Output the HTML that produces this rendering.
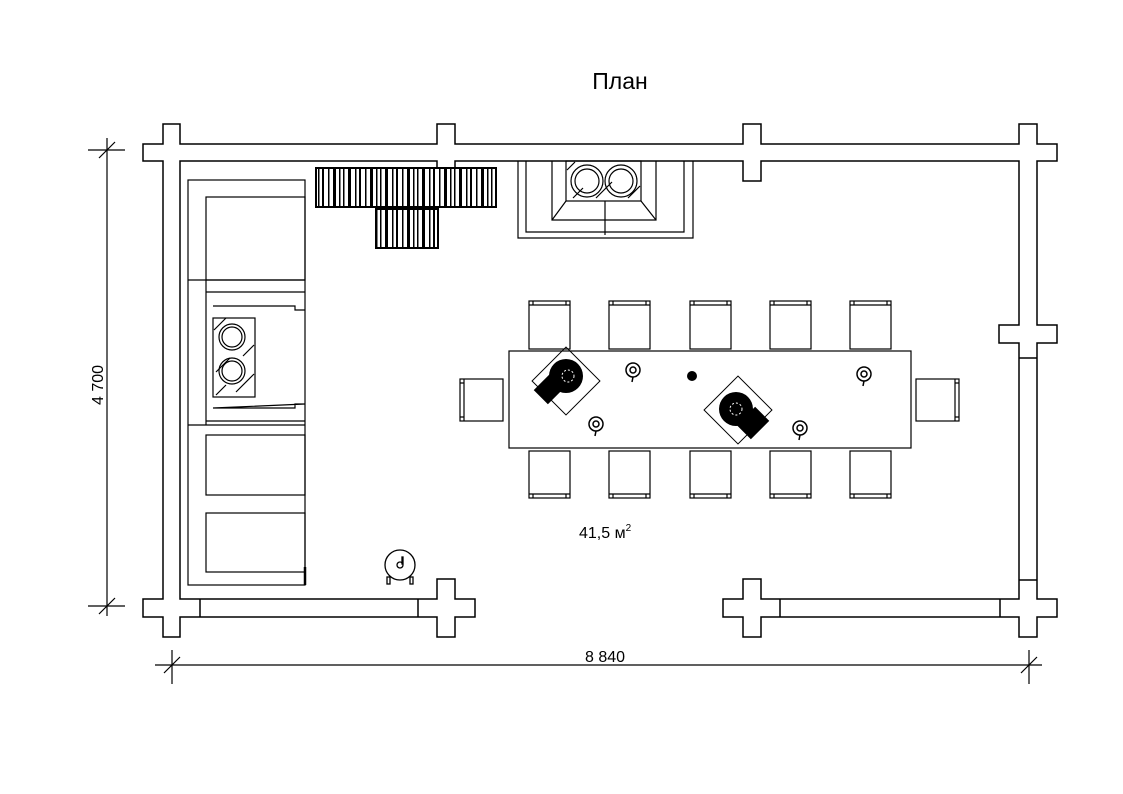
<!DOCTYPE html>
<html><head><meta charset="utf-8"><style>
html,body{margin:0;padding:0;background:#fff}
svg{display:block}
text{font-family:"Liberation Sans",sans-serif;fill:#000}
</style></head><body>
<svg width="1123" height="794" viewBox="0 0 1123 794" xmlns="http://www.w3.org/2000/svg">
<g fill="none" stroke="#000" stroke-width="1.5">
<path d="M143 144 H163 V124 H180 V144 H437 V124 H455 V144 H743 V124 H761 V144 H1019 V124 H1037 V144 H1057 V161 H1037 V325 H1057 V343 H1037 V599 H1057 V617 H1037 V637 H1019 V617 H761 V637 H743 V617 H723 V599 H743 V579 H761 V599 H1019 V343 H999 V325 H1019 V161 H761 V181 H743 V161 H455 V181 H437 V161 H180 V599 H437 V579 H455 V599 H475 V617 H455 V637 H437 V617 H180 V637 H163 V617 H143 V599 H163 V161 H143 Z"/>
<line x1="200" y1="599" x2="200" y2="617"/>
<line x1="418" y1="599" x2="418" y2="617"/>
<line x1="780" y1="599" x2="780" y2="617"/>
<line x1="1000" y1="599" x2="1000" y2="617"/>
<line x1="1019" y1="358" x2="1037" y2="358"/>
<line x1="1019" y1="580" x2="1037" y2="580"/>
</g>
<g fill="none" stroke="#000" stroke-width="1.2">
<line x1="107" y1="138" x2="107" y2="616"/>
<line x1="88" y1="150" x2="125" y2="150"/>
<line x1="88" y1="606" x2="125" y2="606"/>
<line x1="99" y1="158" x2="115" y2="142"/>
<line x1="99" y1="614" x2="115" y2="598"/>
<line x1="155" y1="665" x2="1042" y2="665"/>
<line x1="172" y1="650" x2="172" y2="684"/>
<line x1="1029" y1="650" x2="1029" y2="684"/>
<line x1="164" y1="673" x2="180" y2="657"/>
<line x1="1021" y1="673" x2="1037" y2="657"/>
</g>
<text x="620" y="89" font-size="23" text-anchor="middle">План</text>
<text x="605" y="662" font-size="16" text-anchor="middle">8 840</text>
<text transform="translate(103,385) rotate(-90)" font-size="16" text-anchor="middle">4 700</text>
<text x="579" y="538" font-size="16">41,5 м<tspan font-size="10" dy="-7">2</tspan></text>

<g fill="none" stroke="#000" stroke-width="1.2">
<rect x="188" y="180" width="117" height="405"/>
<rect x="206" y="197" width="99" height="83"/>
<line x1="188" y1="280" x2="305" y2="280"/>
<line x1="188" y1="425" x2="305" y2="425"/>
<line x1="206" y1="280" x2="206" y2="425"/>
<line x1="206" y1="292" x2="305" y2="292"/>
<line x1="206" y1="421" x2="305" y2="421"/>
<path d="M213 306 H295 V310 H305 M305 404 H295 V408 H213 Z"/>
<rect x="213" y="318" width="42" height="79"/>
<circle cx="232" cy="337" r="13"/><circle cx="232" cy="337" r="10"/>
<circle cx="232" cy="371" r="13"/><circle cx="232" cy="371" r="10"/>
<path d="M214 330 L226 318 M236 392 L254 374 M216 372 L230 358 M243 356 L254 345 M216 395 L226 385"/>
<rect x="206" y="435" width="99" height="60"/>
<rect x="206" y="513" width="99" height="59"/>
<line x1="305" y1="567" x2="305" y2="585" stroke-width="2.5"/>
</g>

<g fill="none" stroke="#000" stroke-width="1.2">
<path d="M518 161 V238 H693 V161"/>
<path d="M526 161 V232 H684 V161"/>
<path d="M552 161 V220 H656 V161"/>
<rect x="566" y="161" width="75" height="40"/>
<line x1="566" y1="201" x2="552" y2="220"/><line x1="641" y1="201" x2="656" y2="220"/>
<circle cx="587" cy="181" r="16"/><circle cx="587" cy="181" r="12"/>
<circle cx="621" cy="181" r="16"/><circle cx="621" cy="181" r="12"/>
<line x1="605" y1="201" x2="605" y2="235"/>
<path d="M573 198 L583 188 M596 198 L612 182 M628 198 L640 186 M567 170 L575 162"/>
</g>

<defs>
<pattern id="st" width="37" height="10" patternUnits="userSpaceOnUse">
<rect width="37" height="10" fill="#fff"/>
<rect x="0" width="3" height="10" fill="#000"/><rect x="6" width="1.5" height="10" fill="#000"/>
<rect x="10" width="1.5" height="10" fill="#000"/><rect x="15" width="3" height="10" fill="#000"/>
<rect x="22" width="1.5" height="10" fill="#000"/><rect x="26" width="2" height="10" fill="#000"/>
<rect x="32" width="1.5" height="10" fill="#000"/>
</pattern>
</defs>
<g stroke="#000" stroke-width="2">
<rect x="316" y="168" width="180" height="39" fill="url(#st)"/>
<rect x="376" y="209" width="62" height="39" fill="url(#st)"/>
</g>

<g fill="#fff" stroke="#000" stroke-width="1.2">
<rect x="509" y="351" width="402" height="97"/>
<g id="ct">
<rect x="529" y="301" width="41" height="48"/>
<path d="M529 305 H570 M533 301 V305 M566 301 V305"/>
</g>
<use href="#ct" x="80"/><use href="#ct" x="161"/><use href="#ct" x="241"/><use href="#ct" x="321"/>
<g id="cb">
<rect x="529" y="451" width="41" height="47"/>
<path d="M529 494 H570 M533 494 V498 M566 494 V498"/>
</g>
<use href="#cb" x="80"/><use href="#cb" x="161"/><use href="#cb" x="241"/><use href="#cb" x="321"/>
<rect x="460" y="379" width="43" height="42"/>
<path d="M464 379 V421 M460 383 H464 M460 417 H464"/>
<rect x="916" y="379" width="43" height="42"/>
<path d="M955 379 V421 M955 383 H959 M955 417 H959"/>
</g>
<g>
<rect x="542" y="357" width="48" height="48" fill="none" stroke="#000" transform="rotate(45 566 381)"/>
<circle cx="566" cy="376" r="17" fill="#000"/>
<rect x="537" y="378" width="26" height="20" fill="#000" transform="rotate(-45 550 388)"/>
<circle cx="568" cy="376" r="6" fill="none" stroke="#fff" stroke-dasharray="2 2"/>
<rect x="714" y="386" width="48" height="48" fill="none" stroke="#000" transform="rotate(45 738 410)"/>
<circle cx="736" cy="409" r="17" fill="#000"/>
<rect x="740" y="413" width="26" height="20" fill="#000" transform="rotate(-45 753 423)"/>
<circle cx="736" cy="409" r="6" fill="none" stroke="#fff" stroke-dasharray="2 2"/>
</g>
<g fill="none" stroke="#000" stroke-width="1.5">
<circle cx="633" cy="370" r="7"/><circle cx="633" cy="370" r="3"/><line x1="633" y1="377" x2="632" y2="382"/>
<circle cx="864" cy="374" r="7"/><circle cx="864" cy="374" r="3"/><line x1="864" y1="381" x2="863" y2="386"/>
<circle cx="596" cy="424" r="7"/><circle cx="596" cy="424" r="3"/><line x1="596" y1="431" x2="595" y2="436"/>
<circle cx="800" cy="428" r="7"/><circle cx="800" cy="428" r="3"/><line x1="800" y1="435" x2="799" y2="440"/>
</g>
<circle cx="692" cy="376" r="5" fill="#000"/>

<g fill="none" stroke="#000" stroke-width="1.3">
<circle cx="400" cy="565" r="15"/>
<rect x="402" y="557" width="1" height="7"/>
<circle cx="400" cy="565" r="3"/>
<rect x="387" y="577" width="3" height="7"/>
<rect x="410" y="577" width="3" height="7"/>
</g>
</svg>
</body></html>
